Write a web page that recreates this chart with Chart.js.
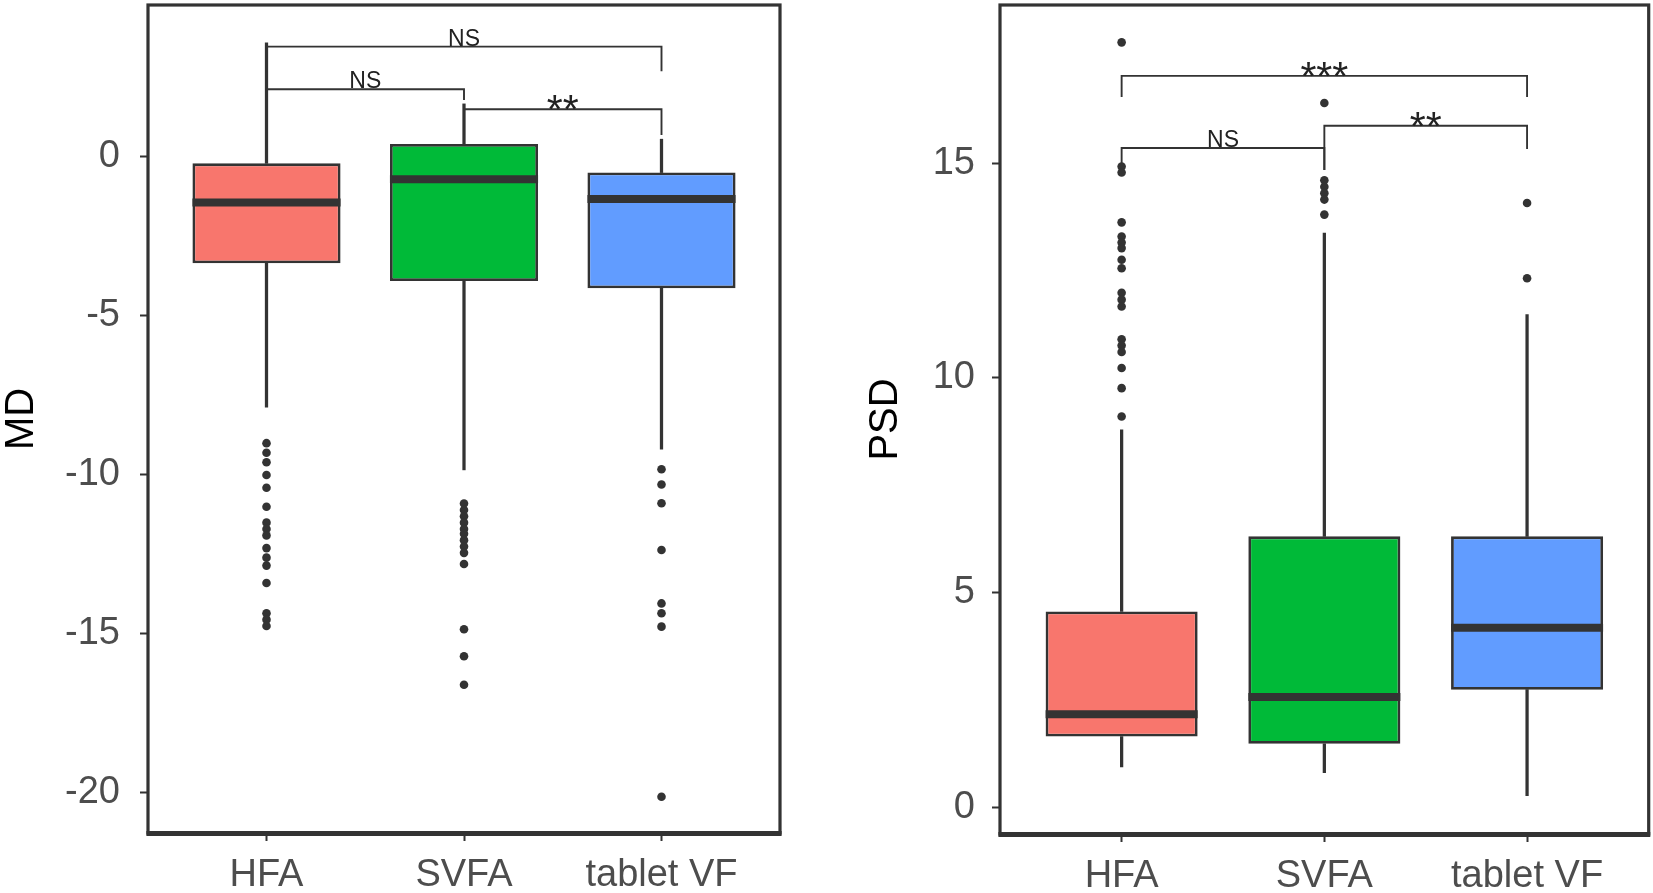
<!DOCTYPE html>
<html>
<head>
<meta charset="utf-8">
<script src="https://cdn.jsdelivr.net/npm/chart.js@4.4.1/dist/chart.umd.min.js"></script>
<style>
  html, body { margin: 0; padding: 0; background: #fff; }
  #wrap { position: relative; width: 1653px; height: 893px; }
  .panel { position: absolute; top: 0; height: 893px; }
</style>
</head>
<body>
<div id="wrap">
  <div class="panel" style="left:0;width:800px"><canvas id="mdChart" width="800" height="893"></canvas></div>
  <div class="panel" style="left:800px;width:853px"><canvas id="psdChart" width="853" height="893"></canvas></div>
</div>
<script>
const groups    = ['HFA', 'SVFA', 'tablet VF'];
const boxColors = ['#F8766D', '#00BA38', '#619CFF'];

// MD panel
const mdMin    = [-7.87, -9.84, -9.19];
const mdQ1     = [-3.34, -3.90, -4.13];
const mdMedian = [-1.43, -0.70, -1.32];
const mdQ3     = [-0.20,  0.41, -0.49];
const mdMax    = [ 3.59,  1.67,  0.56];
const mdOutliers = [
  [-9.0, -9.3, -9.6, -10.0, -10.4, -11.0, -11.5, -11.7, -11.9, -12.3, -12.6, -12.85, -13.4, -14.35, -14.55, -14.75],
  [-10.9, -11.1, -11.3, -11.5, -11.7, -11.85, -12.05, -12.25, -12.45, -12.8, -14.85, -15.7, -16.6],
  [-9.82, -10.3, -10.89, -12.36, -14.04, -14.35, -14.77, -20.12]
];
const mdTicks = [-20, -15, -10, -5, 0];
const mdRange = [-21.26, 4.78];
// [from, to, bar level, left tip, right tip, label]
const mdBrackets = [
  [1, 3, 3.47, 2.70, 2.70, 'NS'],
  [1, 2, 2.13, 1.79, 1.79, 'NS'],
  [2, 3, 1.50, 0.69, 0.69, '**']
];

// PSD panel
const psdMin    = [0.94, 0.81, 0.27];
const psdQ1     = [1.65, 1.48, 2.74];
const psdMedian = [2.17, 2.57, 4.18];
const psdQ3     = [4.56, 6.31, 6.31];
const psdMax    = [8.79, 13.37, 11.47];
const psdOutliers = [
  [17.81, 14.92, 14.78, 13.62, 13.29, 13.15, 13.02, 12.75, 12.55, 11.98, 11.82, 11.66, 10.9, 10.75, 10.6, 10.23, 9.76, 9.10],
  [16.40, 14.6, 14.45, 14.3, 14.15, 13.8],
  [14.07, 12.32]
];
const psdTicks = [0, 5, 10, 15];
const psdRange = [-0.62, 18.68];
const psdBrackets = [
  [1, 3, 17.03, 16.54, 16.54, '***'],
  [1, 2, 15.35, 15.00, 14.84, 'NS'],
  [2, 3, 15.87, 14.84, 15.33, '**']
];

const FONT = "'Liberation Sans', Arial, sans-serif";
const INK  = '#333333';

// outer frame round the plot area
const framePlugin = {
  id: 'frame',
  afterDatasetsDraw(chart) {
    const { ctx, chartArea: a } = chart;
    ctx.save();
    ctx.strokeStyle = INK;
    ctx.lineWidth = 3.2;
    ctx.strokeRect(a.left, a.top, a.right - a.left, a.bottom - a.top);
    ctx.lineWidth = 5;
    ctx.beginPath();
    ctx.moveTo(a.left - 1.6, a.bottom + 0.5);
    ctx.lineTo(a.right + 1.6, a.bottom + 0.5);
    ctx.stroke();
    ctx.restore();
  }
};

// significance labels above the brackets
const sigPlugin = {
  id: 'sig',
  afterDatasetsDraw(chart, args, opts) {
    const { ctx, scales: { x, y } } = chart;
    ctx.save();
    ctx.fillStyle = '#222';
    ctx.textAlign = 'center';
    ctx.textBaseline = 'alphabetic';
    opts.brackets.forEach(b => {
      const px = x.getPixelForValue((b[0] + b[1]) / 2);
      const py = y.getPixelForValue(b[2]);
      const star = b[5] !== 'NS';
      ctx.font = star ? '41px ' + FONT : '23px ' + FONT;
      ctx.fillText(b[5], px, star ? py + 14 : py - 1);
    });
    ctx.restore();
  }
};

function halfBox(chart) {
  const s = chart.scales.x;
  return (s.getPixelForValue(2) - s.getPixelForValue(1)) * 0.75 / 2;
}

function makePanel(id, p) {
  const box = groups.map((g, i) => ({ x: i + 1, y: [p.q1[i], p.q3[i]] }));
  const lowW = groups.map((g, i) => ({ x: i + 1, y: [p.min[i], p.q1[i]] }));
  const upW  = groups.map((g, i) => ({ x: i + 1, y: [p.q3[i], p.max[i]] }));
  const med  = groups.map((g, i) => ({ x: i + 1, y: p.median[i] }));
  const outs = p.outliers.flatMap((arr, i) => arr.map(v => ({ x: i + 1, y: v })));

  const whisker = {
    type: 'bar', backgroundColor: INK, borderWidth: 0, grouped: false,
    categoryPercentage: 1, barPercentage: 1, maxBarThickness: 2.6, order: 5
  };

  const datasets = [
    { type: 'scatter', data: med, pointStyle: 'line', pointRadius: ctx => halfBox(ctx.chart),
      pointBorderWidth: 8, pointBorderColor: INK, order: 0 },
    { type: 'scatter', data: outs, pointStyle: 'circle', pointRadius: 4.3,
      pointBackgroundColor: INK, pointBorderWidth: 0, order: 1 },
    { type: 'bar', data: box, backgroundColor: boxColors, borderColor: INK, borderWidth: 2.8,
      borderSkipped: false, grouped: false, categoryPercentage: 1, barPercentage: 0.75, order: 3 },
    Object.assign({ data: lowW }, whisker),
    Object.assign({ data: upW }, whisker)
  ];

  p.brackets.forEach(b => {
    datasets.push({
      type: 'line',
      data: [{ x: b[0], y: b[3] }, { x: b[0], y: b[2] }, { x: b[1], y: b[2] }, { x: b[1], y: b[4] }],
      borderColor: INK, borderWidth: 1.9, pointRadius: 0, fill: false, tension: 0, order: 2
    });
  });

  return new Chart(document.getElementById(id), {
    type: 'bar',
    data: { datasets },
    options: {
      responsive: false,
      animation: false,
      events: [],
      layout: { padding: { top: 5, right: p.padRight, left: 0, bottom: 0 } },
      plugins: {
        legend: { display: false },
        tooltip: { enabled: false },
        sig: { brackets: p.brackets }
      },
      scales: {
        x: {
          type: 'linear', min: 0.4, max: 3.6, offset: false,
          afterBuildTicks: s => { s.ticks = groups.map((g, i) => ({ value: i + 1 })); },
          afterFit: s => { s.height = p.xHeight; s.paddingLeft = 0; s.paddingRight = 0; },
          ticks: {
            callback: (v, i) => groups[i],
            font: { family: FONT, size: 38 }, color: '#4D4D4D',
            padding: 12, autoSkip: false, maxRotation: 0
          },
          grid: { display: true, drawOnChartArea: false, offset: false, drawTicks: true,
                  tickLength: 8, color: INK, tickColor: INK, tickWidth: 2 },
          border: { display: false }
        },
        y: {
          min: p.range[0], max: p.range[1],
          afterBuildTicks: s => { s.ticks = p.ticks.map(v => ({ value: v })); },
          afterFit: s => { s.width = p.yWidth; s.paddingTop = 0; s.paddingBottom = 0; },
          ticks: { font: { family: FONT, size: 38 }, color: '#4D4D4D', padding: p.tickPad },
          grid: { display: true, drawOnChartArea: false, drawTicks: true,
                  tickLength: 8, color: INK, tickColor: INK, tickWidth: 2 },
          border: { display: false },
          title: {
            display: true, text: p.title, color: '#000',
            font: { family: FONT, size: 40, lineHeight: 1.1 },
            padding: { top: p.titlePad, bottom: 0 }
          }
        }
      }
    },
    plugins: [framePlugin, sigPlugin]
  });
}

makePanel('mdChart', {
  min: mdMin, q1: mdQ1, median: mdMedian, q3: mdQ3, max: mdMax,
  outliers: mdOutliers, ticks: mdTicks, range: mdRange, brackets: mdBrackets,
  title: 'MD', yWidth: 148, xHeight: 60, padRight: 20, tickPad: 20, titlePad: 0
});

makePanel('psdChart', {
  min: psdMin, q1: psdQ1, median: psdMedian, q3: psdQ3, max: psdMax,
  outliers: psdOutliers, ticks: psdTicks, range: psdRange, brackets: psdBrackets,
  title: 'PSD', yWidth: 200, xHeight: 59, padRight: 4, tickPad: 17, titlePad: 64
});
</script>
</body>
</html>
